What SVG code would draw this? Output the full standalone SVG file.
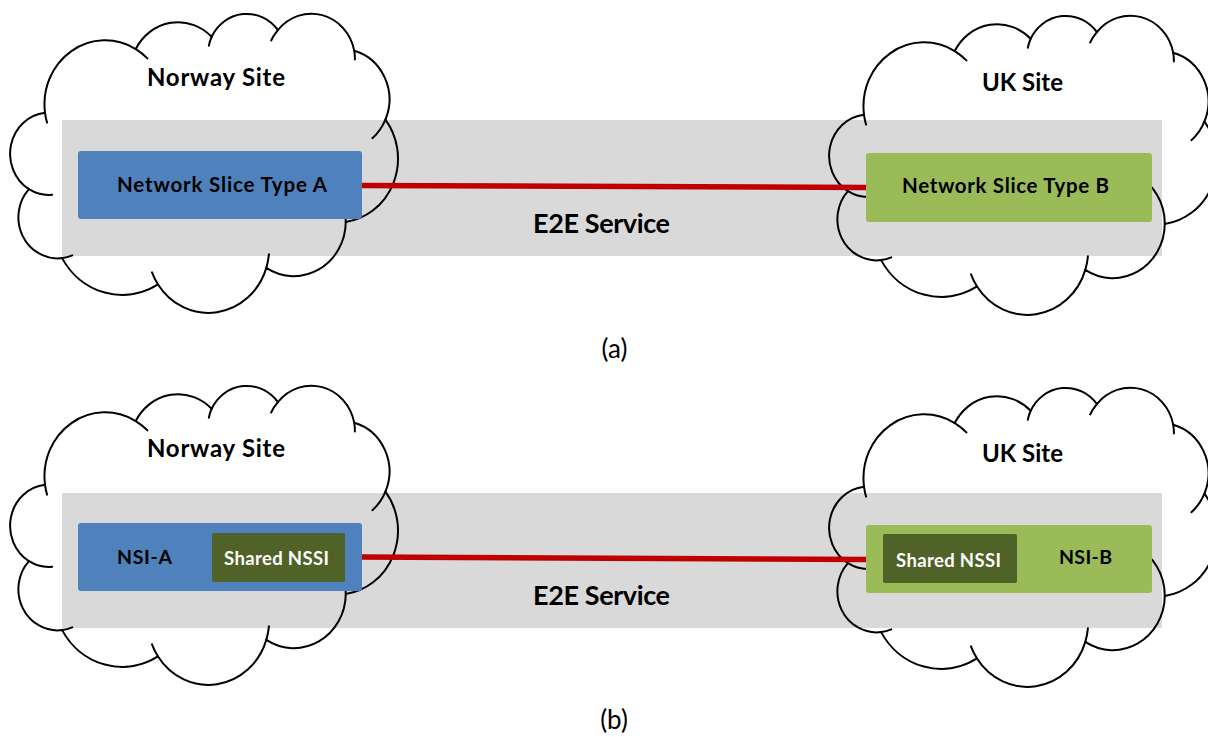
<svg xmlns="http://www.w3.org/2000/svg" xmlns:xlink="http://www.w3.org/1999/xlink" width="1208" height="737" viewBox="0 0 1208 737">
  <style>
    .band { fill: #d9d9d9; }
    .cloud-outline { fill: none; stroke: #000; stroke-width: 2; vector-effect: non-scaling-stroke; stroke-linejoin: round; }
    .cloud-crease { fill: none; stroke: #000; stroke-width: 2; vector-effect: non-scaling-stroke; stroke-linecap: round; }
    .slice-a { fill: #4f81bd; }
    .slice-b { fill: #9bbb59; }
    .nssi { fill: #4f6228; }
    .link { stroke: #c00000; stroke-width: 5.5; fill: none; }
    .t { font-family: Lato, "Open Sans", "Liberation Sans", sans-serif; font-weight: bold; fill: #000; text-anchor: middle; }
    .site { font-size: 24px; }
    .slice { font-size: 20.5px; }
    .svc { font-size: 27px; }
    .nsi { font-size: 19.5px; }
    .shared { font-size: 18.5px; fill: #fff; }
    .cap { font-family: Lato, "Open Sans", "Liberation Sans", sans-serif; font-size: 26px; fill: #000; text-anchor: middle; }
  </style>
  <defs>
    <!-- cloud drawn in a 43200 x 43200 unit box -->
    <g id="cloud">
      <path class="cloud-outline" d="M 3900 14370 A 6753 9190 0 0 1 14000 5192 A 5333 7267 0 0 1 22451 3422 A 4365 5945 0 0 1 29828 2471 A 4857 6595 0 0 1 38324 5426 A 5333 7273 0 0 1 41798 15354 A 6775 9220 0 0 1 37384 30097 A 5785 7867 0 0 1 28536 36707 A 6752 9215 0 0 1 16478 39090 A 7720 10543 0 0 1 5802 35296 A 4360 5918 0 0 1 2111 25374 A 4345 5945 0 0 1 3900 14370 Z"/>
      <path class="cloud-crease" d="M 4693 26177 A 4345 5945 0 0 1 2111 25374 M 6928 34899 A 4360 5918 0 0 1 5802 35296 M 16478 39090 A 6752 9215 0 0 1 15810 37350 M 28827 34751 A 6752 9215 0 0 1 28536 36707 M 34129 22954 A 5785 7867 0 0 1 37384 30097 M 41798 15354 A 5333 7273 0 0 1 40350 18030 M 38324 5426 A 4857 6595 0 0 1 38400 6689 M 29078 3952 A 4857 6595 0 0 1 29828 2471 M 22141 4720 A 4365 5945 0 0 1 22451 3422 M 14000 5192 A 6753 9190 0 0 1 15300 6541 M 4127 15789 A 6753 9190 0 0 1 3900 14370"/>
    </g>
  </defs>

  <!-- (a) one slice type per site -->
  <g id="panel-a">
    <g id="a-e2e-service">
      <rect class="band" x="62" y="120" width="1100" height="136"/>
      <text class="t svc" x="601.5" y="233" textLength="137">E2E Service</text>
    </g>
    <g id="a-norway-site">
      <use xlink:href="#cloud" transform="translate(10,13) scale(0.0089815,0.0069444)"/>
      <text class="t site" x="216" y="86" textLength="138">Norway Site</text>
    </g>
    <g id="a-uk-site">
      <use xlink:href="#cloud" transform="translate(829,15) scale(0.0089815,0.0069444)"/>
      <text class="t site" x="1022.5" y="91" textLength="81">UK Site</text>
    </g>
    <g id="a-connectors">
      <line class="link" x1="360" y1="185.5" x2="868" y2="187.5"/>
    </g>
    <g id="a-slice-type-a">
      <rect class="slice-a" x="78" y="151" width="284" height="68" rx="3"/>
      <text class="t slice" x="222" y="192" textLength="210">Network Slice Type A</text>
    </g>
    <g id="a-slice-type-b">
      <rect class="slice-b" x="866" y="153" width="286" height="69" rx="3"/>
      <text class="t slice" x="1005.5" y="193" textLength="207">Network Slice Type B</text>
    </g>
    <text class="cap" x="614.5" y="358">(a)</text>
  </g>

  <!-- (b) slice instances sharing an NSSI -->
  <g id="panel-b">
    <g id="b-e2e-service">
      <rect class="band" x="62" y="493" width="1100" height="135"/>
      <text class="t svc" x="601.5" y="605" textLength="137">E2E Service</text>
    </g>
    <g id="b-norway-site">
      <use xlink:href="#cloud" transform="translate(10,385) scale(0.0089815,0.0069444)"/>
      <text class="t site" x="216" y="457" textLength="138">Norway Site</text>
    </g>
    <g id="b-uk-site">
      <use xlink:href="#cloud" transform="translate(829,387) scale(0.0089815,0.0069444)"/>
      <text class="t site" x="1022.5" y="462" textLength="81">UK Site</text>
    </g>
    <g id="b-connectors">
      <line class="link" x1="360" y1="557" x2="868" y2="559.5"/>
    </g>
    <g id="b-nsi-a">
      <rect class="slice-a" x="78" y="523" width="284" height="68" rx="3"/>
      <text class="t nsi" x="144.5" y="564" textLength="55">NSI-A</text>
    </g>
    <g id="b-shared-nssi-a">
      <rect class="nssi" x="212" y="533" width="133" height="49" rx="2"/>
      <text class="t shared" x="276.5" y="565" textLength="105">Shared NSSI</text>
    </g>
    <g id="b-nsi-b">
      <rect class="slice-b" x="866" y="525" width="286" height="68" rx="3"/>
      <text class="t nsi" x="1085.5" y="564" textLength="53">NSI-B</text>
    </g>
    <g id="b-shared-nssi-b">
      <rect class="nssi" x="883" y="534" width="134" height="49" rx="2"/>
      <text class="t shared" x="948.5" y="567" textLength="105">Shared NSSI</text>
    </g>
    <text class="cap" x="614" y="729">(b)</text>
  </g>
</svg>
